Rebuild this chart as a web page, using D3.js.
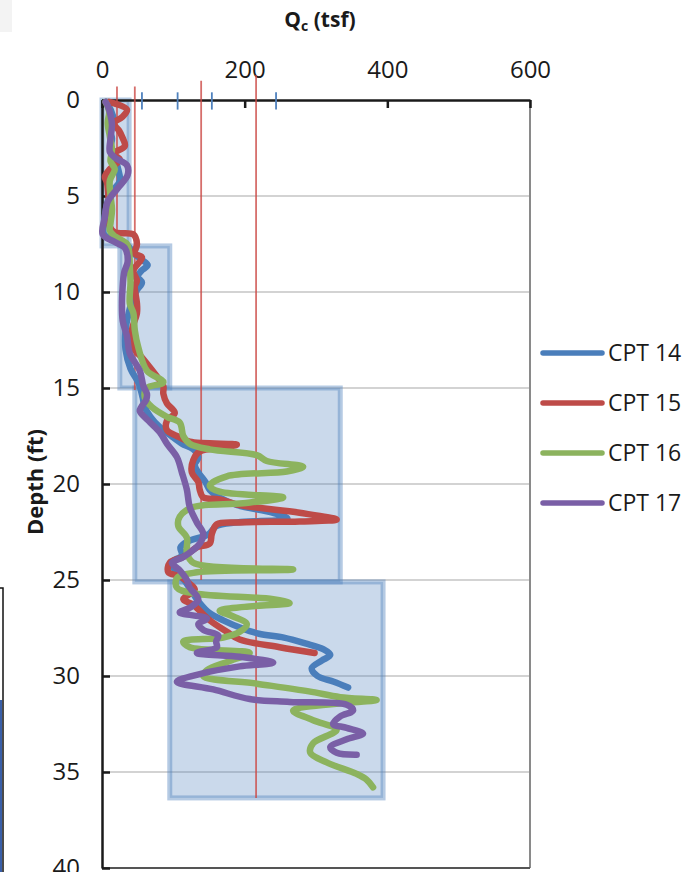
<!DOCTYPE html>
<html>
<meta http-equiv="content-type" content="text/html; charset=utf-8" />
<head>
    <title>CPT Qc vs depth</title>
</head>

<style>
body { margin: 0; background: #fff; }
text { font-family: "Open Sans", sans-serif; fill: #1a1a1a; }
.axis text { font-size: 24px; }
.axis path, .axis line { fill: none; stroke: #1a1a1a; stroke-width: 2.5; }
.grid line { stroke: #c4c4c4; stroke-width: 1.5; }
.layer { fill: #4f81bd; fill-opacity: 0.3; stroke: #4f81bd; stroke-opacity: 0.42; stroke-width: 5; }
.cpt { fill: none; stroke-width: 6.5; stroke-linejoin: round; stroke-linecap: round; }
</style>

<svg class="chart"></svg>
<script src="https://d3js.org/d3.v7.min.js"></script>

<script type="text/javascript">
// cone resistance profiles, [depth ft, qc tsf]
var cpt14 = [[0.1,6],[0.5,12],[1,16],[1.5,10],[2,14],[2.5,12],[3,18],[3.5,22],[4.2,25],[4.7,16],[5.2,9],[5.8,5],[6.4,3],[7.0,3],
  [7.3,18],[7.6,36],[8.0,45],[8.3,55],[8.6,64],[8.9,55],[9.2,50],[9.5,56],[9.9,49],[10.5,42],[11,38],[12,33],[13,33],[14,40],
  [14.8,52],[15.5,57],[16,60],[16.5,68],[17,80],[17.5,97],[17.9,112],[18.2,128],[18.6,135],[19,130],[19.4,135],[19.9,145],
  [20.3,151],[20.7,165],[21.1,190],[21.5,240],[21.8,260],[22.0,190],[22.2,160],[22.6,150],[23.0,120],[23.3,110],[23.7,112],
  [24.1,98],[24.6,104],[25.0,115],[25.5,124],[26.2,137],[26.7,150],[27.1,170],[27.5,195],[27.8,220],[28.0,255],[28.3,285],
  [28.6,310],[28.9,320],[29.2,308],[29.6,294],[30.0,302],[30.3,325],[30.6,345]];

var cpt15 = [[0.1,10],[0.5,35],[0.9,28],[1.2,16],[1.6,24],[1.9,28],[2.4,32],[2.8,16],[3.1,25],[3.6,11],[4.0,4],[4.3,7],[5.0,9],
  [5.7,11],[6.6,11],[6.9,18],[7.0,44],[7.5,49],[8.0,46],[8.2,56],[8.9,44],[9.4,49],[9.7,46],[10.6,49],[11.1,49],[12,42],[12.9,44],
  [13.5,58],[14.4,77],[14.9,86],[15.3,86],[15.8,91],[16.3,102],[16.7,91],[17.2,91],[17.5,105],[17.8,123],[17.95,189],[18.1,170],
  [18.3,137],[18.75,128],[19.4,126],[19.9,135],[20.3,137],[20.7,142],[20.8,165],[21.1,193],[21.5,277],[21.85,329],[21.95,277],
  [22.0,193],[22.1,161],[22.6,154],[23.1,151],[23.3,133],[23.8,114],[24.1,95],[24.6,93],[24.8,109],[25.2,123],[25.5,130],
  [26.0,114],[26.3,128],[27.1,151],[27.7,175],[28.1,193],[28.5,249],[28.8,298]];

var cpt16 = [[0.1,5],[0.6,10],[1.2,8],[1.9,11],[2.6,14],[3.2,12],[3.6,18],[4.2,11],[5.0,12],[5.7,14],[6.4,12],[6.8,11],[7.1,18],
  [7.5,35],[7.9,38],[8.7,39],[9.5,40],[10.6,39],[11.1,44],[12,46],[12.9,51],[14.1,63],[14.7,86],[15.0,63],[15.5,60],[16,70],
  [16.5,91],[16.8,109],[17.5,114],[17.9,123],[18.2,151],[18.5,217],[18.8,231],[19.1,282],[19.35,259],[19.6,175],[20.1,151],
  [20.4,165],[20.7,254],[21.0,198],[21.2,128],[21.7,109],[22.2,107],[22.8,119],[23.6,119],[24.1,128],[24.45,268],[24.6,133],
  [24.9,105],[25.4,105],[25.7,130],[26.0,240],[26.2,263],[26.4,200],[26.6,165],[26.9,184],[27.3,203],[27.7,193],[28.0,170],
  [28.2,114],[28.5,123],[28.8,207],[29.2,180],[29.7,147],[30.0,142],[30.4,217],[30.8,290],[31.1,334],[31.25,385],[31.4,343],
  [31.8,268],[32.3,296],[32.8,329],[33.5,296],[34.0,292],[34.5,315],[35.1,357],[35.4,371],[35.8,380]];

var cpt17 = [[0.1,5],[0.3,8],[0.8,12],[1.3,14],[2.0,12],[2.7,11],[3.0,18],[3.4,35],[3.9,36],[4.6,22],[5.3,8],[6.1,4],[7.0,1],
  [7.4,18],[7.7,32],[8.4,36],[9.0,31],[9.7,29],[10.5,28],[11.5,29],[12.3,35],[13.2,39],[14.1,53],[14.9,58],[15.3,63],[15.6,62],
  [16.0,55],[16.2,53],[16.7,65],[17.3,81],[17.9,91],[18.6,105],[19.4,112],[20.3,119],[21.2,123],[22.0,133],[22.6,142],[23.1,137],
  [23.8,114],[24.1,98],[24.5,109],[25.0,119],[25.4,123],[26.0,135],[26.4,125],[26.7,109],[27.0,147],[27.3,135],[27.6,142],
  [27.9,163],[28.2,160],[28.5,161],[28.8,133],[29.0,193],[29.3,240],[29.5,193],[29.9,137],[30.3,105],[30.7,156],[31.2,207],
  [31.35,263],[31.5,343],[31.8,352],[32.1,334],[32.5,324],[32.7,343],[33.0,366],[33.3,343],[33.7,320],[34.0,329],[34.1,357]];

var seriesNames = ["CPT 14", "CPT 15", "CPT 16", "CPT 17"];
var seriesColors = ["#4a7ebb", "#be4b48", "#8cb35e", "#7a5fa6"];

// layer boxes
var layerTop = [0, 7.6, 15, 25.1];
var layerBottom = [7.6, 15, 25.1, 36.35];
var layerMin = [0, 25, 46, 95];
var layerMax = [38, 95, 334, 394];

// red reference lines
var refQc = [21, 46, 139, 216];
var refTop = [-0.7, -0.7, -1.0, -1.3];
var refBottom = [7.6, 15.1, 25, 36.35];

// short blue marks at the surface
var markQc = [56, 106, 154, 244];

var xTicks = [0, 200, 400, 600];
var yTicks = [0, 5, 10, 15, 20, 25, 30, 35, 40];

var width = 688, height = 872;

var svg = d3.select(".chart")
  .attr("width", width)
  .attr("height", height);

var x = d3.scaleLinear().domain([0, 600]).range([102, 530]);
var y = d3.scaleLinear().domain([0, 40]).range([100, 868]);

// screenshot leftovers at the edges
svg.append("rect").attr("x", 0).attr("y", 0).attr("width", 12).attr("height", 32).attr("fill", "#f3f3f3");
svg.append("rect").attr("x", -2).attr("y", 588).attr("width", 5).attr("height", 300)
  .attr("fill", "#fff").attr("stroke", "#111").attr("stroke-width", 1.5);
svg.append("rect").attr("x", 0).attr("y", 700).attr("width", 2).attr("height", 172).attr("fill", "#3a5fa8");

// gridlines
svg.append("g").attr("class", "grid")
  .selectAll("line")
  .data(yTicks.slice(1, -1)).enter()
  .append("line")
  .attr("x1", x(0)).attr("x2", x(600))
  .attr("y1", function(d) { return y(d); })
  .attr("y2", function(d) { return y(d); });

// plot border right / bottom
svg.append("line").attr("x1", x(600)).attr("x2", x(600)).attr("y1", y(0)).attr("y2", y(40))
  .attr("stroke", "#8a8a8a").attr("stroke-width", 2);
svg.append("line").attr("x1", x(0)).attr("x2", x(600)).attr("y1", y(40)).attr("y2", y(40))
  .attr("stroke", "#555").attr("stroke-width", 2);

// layer boxes
svg.append("g").selectAll("rect")
  .data(layerTop).enter()
  .append("rect")
  .attr("class", "layer")
  .attr("x", function(d, i) { return x(layerMin[i]); })
  .attr("y", function(d, i) { return y(layerTop[i]); })
  .attr("width", function(d, i) { return x(layerMax[i]) - x(layerMin[i]); })
  .attr("height", function(d, i) { return y(layerBottom[i]) - y(layerTop[i]); });

// axes
svg.append("g")
  .attr("class", "x axis")
  .attr("transform", "translate(0," + y(0) + ")")
  .call(d3.axisTop(x).tickValues(xTicks).tickSize(-8).tickSizeOuter(0).tickPadding(22));

svg.append("g")
  .attr("class", "y axis")
  .attr("transform", "translate(" + x(0) + ",0)")
  .call(d3.axisLeft(y).tickValues(yTicks).tickSize(-8).tickSizeOuter(0).tickPadding(22));

// reference lines
svg.append("g").selectAll("line")
  .data(refQc).enter()
  .append("line")
  .attr("x1", function(d) { return x(d); })
  .attr("x2", function(d) { return x(d); })
  .attr("y1", function(d, i) { return y(refTop[i]); })
  .attr("y2", function(d, i) { return y(refBottom[i]); })
  .attr("stroke", "#cc4a46").attr("stroke-opacity", 0.8).attr("stroke-width", 1.8);

svg.append("g").selectAll("line")
  .data(markQc).enter()
  .append("line")
  .attr("x1", function(d) { return x(d); })
  .attr("x2", function(d) { return x(d); })
  .attr("y1", y(-0.4)).attr("y2", y(0.5))
  .attr("stroke", "#4f81bd").attr("stroke-width", 1.8);

// profiles
var line = d3.line()
  .x(function(d) { return x(d[1]); })
  .y(function(d) { return y(d[0]); })
  .curve(d3.curveCatmullRom.alpha(0.5));

[cpt14, cpt15, cpt16, cpt17].forEach(function(s, i) {
  svg.append("path")
    .datum(s)
    .attr("class", "cpt")
    .attr("stroke", seriesColors[i])
    .attr("d", line);
});

// titles
var title = svg.append("text")
  .attr("x", 320).attr("y", 27)
  .attr("text-anchor", "middle")
  .style("font-size", "21px").style("font-weight", "bold");
title.append("tspan").text("Q");
title.append("tspan").attr("dy", 4).style("font-size", "14px").text("c");
title.append("tspan").attr("dy", -4).text(" (tsf)");

svg.append("text")
  .attr("transform", "translate(43,482) rotate(-90)")
  .attr("text-anchor", "middle")
  .style("font-size", "22px").style("font-weight", "bold")
  .text("Depth (ft)");

// legend
var legendY = [353, 403, 453, 503];
var legend = svg.append("g").selectAll("g")
  .data(seriesNames).enter()
  .append("g")
  .attr("transform", function(d, i) { return "translate(543," + legendY[i] + ")"; });

legend.append("line")
  .attr("x1", 0).attr("x2", 59)
  .attr("stroke", function(d, i) { return seriesColors[i]; })
  .attr("stroke-width", 5.5).attr("stroke-linecap", "round");

legend.append("text")
  .attr("x", 65).attr("dy", 8)
  .style("font-size", "23px")
  .text(function(d) { return d; });
</script>

</html>
